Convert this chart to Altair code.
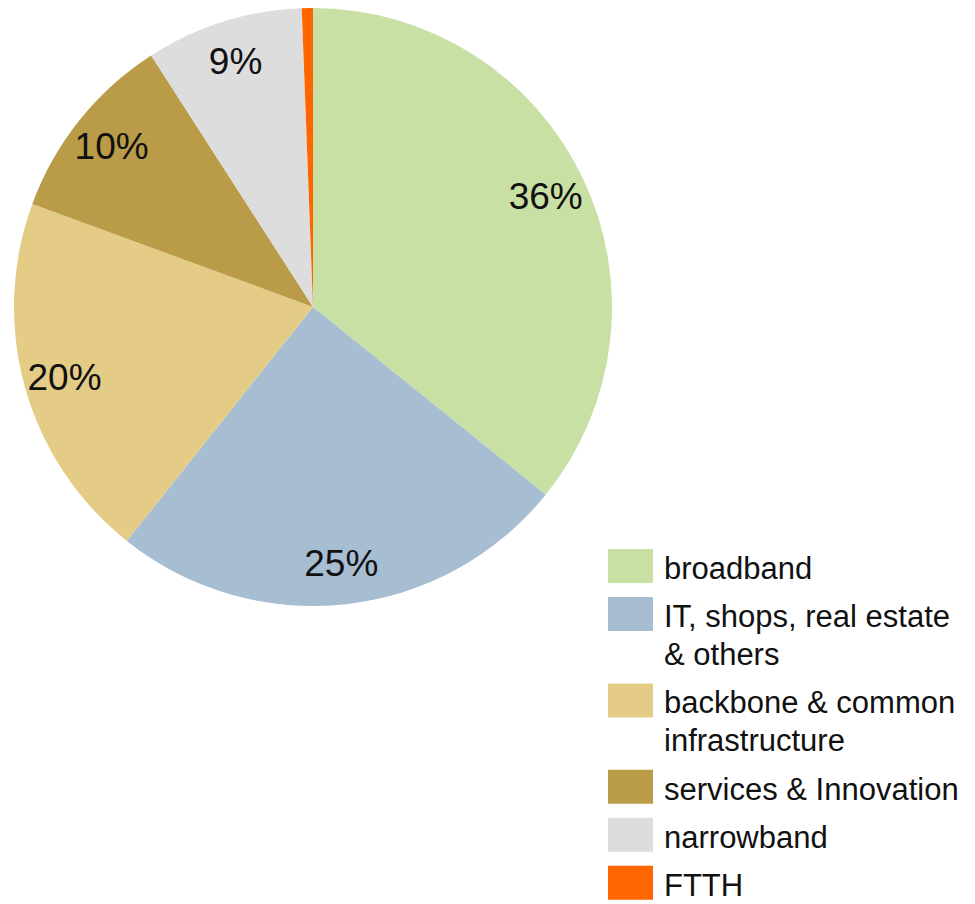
import altair as alt
import pandas as pd

NB = "\u00a0"
categories = ["broadband", "IT, shops, real estate & others", "backbone & common infrastructure",
              "services & Innovation", "narrowband", "FTTH"]
values = [35.8, 24.9, 19.9, 10.3, 8.5, 0.6]
pct_labels = ["36%", "25%", "20%", "10%", "9%", ""]
legend_labels = ["broadband",
                 NB + "IT, shops, real estate\n" + NB + "& others",
                 NB + NB + "backbone & common\n" + NB + NB + "infrastructure",
                 NB + "services & Innovation",
                 "narrowband",
                 "FTTH"]
colors = ["#c9e0a5", "#a7bdd2", "#e4cc87", "#ba9c48", "#dddddd", "#ff6600"]

FONT = "Liberation Sans"

# legend rows: a single-line entry takes one unit, each extra line 0.8 units
centers = []
pos = 0.0
for lab in legend_labels:
    centers.append(pos)
    pos += 1 + 0.8 * (lab.count("\n"))
half = 17 / 48

df = pd.DataFrame({
    "cat": categories,
    "value": values,
    "pct": pct_labels,
    "leg": legend_labels,
    "idx": list(range(len(categories))),
    "ctr": centers,
    "top": [c - half for c in centers],
    "bot": [c + half for c in centers],
})

color = alt.Color("cat:N", scale=alt.Scale(domain=categories, range=colors), legend=None)
theta = alt.Theta("value:Q", stack=True)
order = alt.Order("idx:Q", sort="ascending")

cx, cy = 305, 299

pie = alt.Chart(df).mark_arc(outerRadius=299, stroke=None).encode(
    theta=theta, color=color, order=order,
    x=alt.value(cx), y=alt.value(cy),
)

pct = alt.Chart(df).mark_text(radius=258, fontSize=37, font=FONT, color="#111111",
                              align="center", baseline="middle", dy=2).encode(
    theta=theta, order=order, text="pct:N",
    x=alt.value(cx), y=alt.value(cy),
)

yscale = alt.Scale(domain=[0, 10], range=[558, 1038])

leg_rect = alt.Chart(df).mark_rect().encode(
    x=alt.value(600), x2=alt.value(645),
    y=alt.Y("top:Q", scale=yscale, axis=None), y2="bot:Q",
    color=color,
)

leg_text = alt.Chart(df).mark_text(align="left", baseline="alphabetic", dy=13, fontSize=31,
                                   font=FONT, lineBreak="\n", lineHeight=38, color="#111111").encode(
    x=alt.value(656),
    y=alt.Y("ctr:Q", scale=yscale, axis=None),
    text="leg:N",
)

chart = alt.layer(pie, pct, leg_rect, leg_text).properties(
    width=955, height=896, padding=0, autosize="none"
).configure_view(stroke=None)

chart.save("out.html", embed_options={"renderer": "svg", "actions": False})
